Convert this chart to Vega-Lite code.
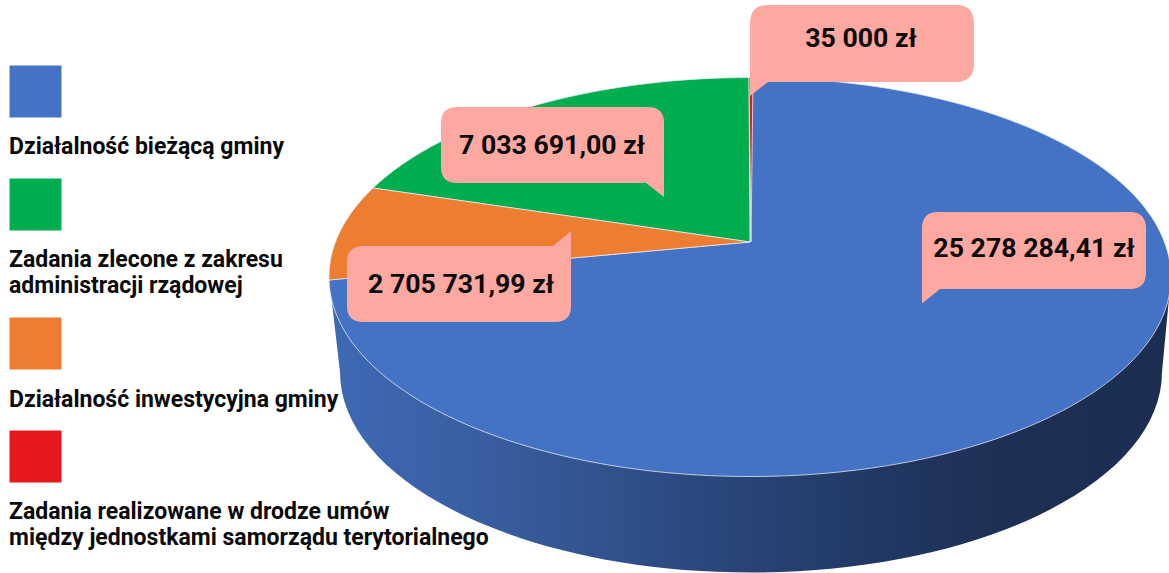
{
"$schema":"https://vega.github.io/schema/vega-lite/v6.json",
"width":1169,"height":573,"padding":0,
"autosize":{"type":"fit","contains":"padding"},
"background":"white",
"view":{"stroke":null},
"config":{"view":{"stroke":null}},
"data":{"values":[
{"nazwa":"Działalność bieżącą gminy","legenda":"Działalność bieżącą gminy","wartosc":25278284.41,"kwota":"25 278 284,41 zł"},
{"nazwa":"Zadania zlecone","legenda":"Zadania zlecone z zakresu\nadministracji rządowej","wartosc":7033691.00,"kwota":"7 033 691,00 zł"},
{"nazwa":"Działalność inwestycyjna gminy","legenda":"Działalność inwestycyjna gminy","wartosc":2705731.99,"kwota":"2 705 731,99 zł"},
{"nazwa":"Zadania realizowane","legenda":"Zadania realizowane w drodze umów\nmiędzy jednostkami samorządu terytorialnego","wartosc":35000,"kwota":"35 000 zł"}
]},
"resolve":{"scale":{"x":"independent","y":"independent","shape":"independent","fill":"independent"}},
"layer":[
{"transform":[{"filter":"datum.wartosc > 20000000"}],
 "mark":{"type":"point","filled":true,"opacity":1,"size":4,"strokeWidth":0,"clip":true,
  "shape":"M -421,35 L -410,130 A 410 200 0 0 0 412,130 L 421,35 Z",
  "fill":{"gradient":"linear","x1":0,"y1":0,"x2":1,"y2":0,"stops":[
   {"offset":0,"color":"#3f69b4"},{"offset":0.2,"color":"#375d9f"},{"offset":0.42,"color":"#2c4a80"},{"offset":0.62,"color":"#223a66"},{"offset":0.8,"color":"#1d2f54"},{"offset":1,"color":"#1b2d50"}]}},
 "encoding":{
  "x":{"datum":0,"scale":{"domain":[-750,419],"range":[0,1169]},"axis":null},
  "y":{"datum":0,"scale":{"domain":[-242,331],"range":[0,573]},"axis":null}}},
{"mark":{"type":"point","filled":true,"opacity":1,"size":4,"stroke":"#e4eaf5","strokeWidth":0.8,"clip":true},
 "encoding":{
  "x":{"datum":0,"scale":{"domain":[-750,419],"range":[0,1169]},"axis":null},
  "y":{"datum":0,"scale":{"domain":[-242,331],"range":[0,573]},"axis":null},
  "fill":{"field":"nazwa","type":"nominal","scale":{"domain":["Działalność bieżącą gminy","Zadania zlecone","Działalność inwestycyjna gminy","Zadania realizowane"],"range":["#4472c4","#00ae4f","#ed7d31","#e3191e"]},"legend":null},
  "shape":{"field":"nazwa","type":"nominal","scale":{"domain":["Działalność bieżącą gminy","Zadania zlecone","Działalność inwestycyjna gminy","Zadania realizowane"],"range":[
   "M 2,-164.5 A 421 199.5 0 1 1 -421,38 L 0,0 Z",
   "M -377,-54 A 421 199.5 0 0 1 -1,-164.5 L 0,0 Z",
   "M -421,38 A 421 199.5 0 0 1 -377,-54 L 0,0 Z",
   "M -1,-164.5 L 3,-164.5 L 1,0 Z"]},"legend":null}}},
{"mark":{"type":"point","filled":true,"opacity":1,"size":4,"strokeWidth":0,"fill":"#fea8a2"},
 "encoding":{
  "x":{"field":"wartosc","type":"quantitative","scale":{"domain":[35000,2705731.99,7033691,25278284.41],"range":[862,459,552.5,1034],"zero":false,"nice":false},"axis":null},
  "y":{"field":"wartosc","type":"quantitative","scale":{"domain":[35000,2705731.99,7033691,25278284.41],"range":[43.5,284,145,250.5],"zero":false,"nice":false},"axis":null},
  "shape":{"field":"nazwa","type":"nominal","scale":{"domain":["Działalność bieżącą gminy","Zadania zlecone","Działalność inwestycyjna gminy","Zadania realizowane"],"range":[
   "M -112,-22 Q -112,-38.5 -96,-38.5 H 96 Q 112,-38.5 112,-22 V 22 Q 112,38.5 96,38.5 H -94 L -112,53 Z",
   "M -111.5,-22 Q -111.5,-38 -95.5,-38 H 95.5 Q 111.5,-38 111.5,-22 V 52 L 93.5,38 H -95.5 Q -111.5,38 -111.5,22 Z",
   "M -112,-22 Q -112,-38 -96,-38 H 94 L 112,-53 V 22 Q 112,38 96,38 H -96 Q -112,38 -112,22 Z",
   "M -112,-20 Q -112,-38.5 -94,-38.5 H 94 Q 112,-38.5 112,-20 V 20 Q 112,38.5 94,38.5 H -94 L -112,52.5 Z"]},"legend":null}}},
{"mark":{"type":"text","font":"Roboto","fontWeight":700,"fontSize":26.7,"align":"center","baseline":"middle","fill":"#0a0a0a"},
 "encoding":{
  "text":{"field":"kwota"},
  "x":{"field":"wartosc","type":"quantitative","scale":{"domain":[35000,2705731.99,7033691,25278284.41],"range":[861,461,552,1034],"zero":false,"nice":false},"axis":null},
  "y":{"field":"wartosc","type":"quantitative","scale":{"domain":[35000,2705731.99,7033691,25278284.41],"range":[39,285,146,249],"zero":false,"nice":false},"axis":null}}},
{"mark":{"type":"point","shape":"square","filled":true,"opacity":1,"size":2704,"strokeWidth":0},
 "encoding":{
  "x":{"datum":0,"scale":{"domain":[-35.5,1133.5],"range":[0,1169]},"axis":null},
  "y":{"field":"wartosc","type":"quantitative","scale":{"domain":[35000,2705731.99,7033691,25278284.41],"range":[456.5,343.5,204.5,91.5],"zero":false,"nice":false},"axis":null},
  "fill":{"field":"nazwa","type":"nominal","scale":{"domain":["Działalność bieżącą gminy","Zadania zlecone","Działalność inwestycyjna gminy","Zadania realizowane"],"range":["#4472c4","#00ae4f","#ed7d31","#e3191e"]},"legend":null}}},
{"mark":{"type":"text","font":"Roboto","fontWeight":700,"fontSize":23,"align":"left","baseline":"top","lineBreak":"\n","lineHeight":26,"fill":"#0a0a0a"},
 "encoding":{
  "text":{"field":"legenda"},
  "x":{"datum":0,"scale":{"domain":[-9,1160],"range":[0,1169]},"axis":null},
  "y":{"field":"wartosc","type":"quantitative","scale":{"domain":[35000,2705731.99,7033691,25278284.41],"range":[501,389,249,136],"zero":false,"nice":false},"axis":null}}}
]
}
